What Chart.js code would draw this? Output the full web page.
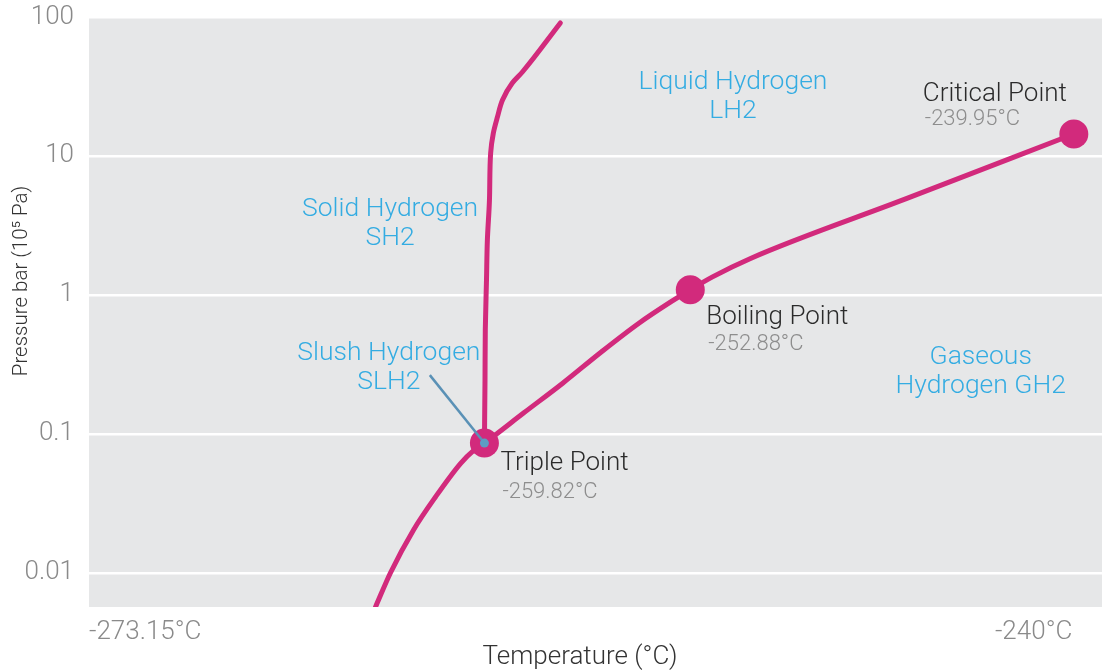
<!DOCTYPE html>
<html>
<head>
<meta charset="utf-8">
<script src="https://cdn.jsdelivr.net/npm/chart.js@4.4.1/dist/chart.umd.min.js"></script>
<style>
  html, body { margin: 0; padding: 0; background: #fff; overflow: hidden; }
  canvas { display: block; }
</style>
</head>
<body>
<canvas id="phaseChart" width="1102" height="671"></canvas>
<script>
// Hydrogen phase diagram: temperature (°C) against pressure (bar, log scale)

const FONT = "'Roboto', 'Liberation Sans', sans-serif";

const pressureTicks = [0.01, 0.1, 1, 10, 100];
const tempTicks = [-273.15, -240];

// sublimation + vaporisation curve, up to the critical point
const vaporTemps = [-263.49, -262.99, -262.21, -261.47, -260.62, -260.18, -259.82, -258.49, -257.17, -255.88, -254.60, -253.54, -252.88, -252.13, -250.83, -245.62, -239.95];
const vaporPressures = [0.0057, 0.0100, 0.0204, 0.0352, 0.0615, 0.0762, 0.086, 0.142, 0.233, 0.389, 0.629, 0.891, 1.09, 1.35, 1.84, 4.91, 14.4];

// melting curve, rising from the triple point
const meltTemps = [-259.82, -259.80, -259.79, -259.75, -259.72, -259.65, -259.61, -259.52, -259.38, -259.21, -258.88, -258.54, -257.26];
const meltPressures = [0.086, 0.244, 0.56, 1.28, 2.49, 4.82, 10.5, 14.6, 19.1, 25.3, 33.5, 40.2, 90.6];

const pointNames = ['Triple Point', 'Boiling Point', 'Critical Point'];
const pointTemps = [-259.82, -252.88, -239.95];
const pointPressures = [0.086, 1.09, 14.4];

const regionNames = [['Liquid Hydrogen', 'LH2'], ['Solid Hydrogen', 'SH2'], ['Slush Hydrogen', 'SLH2'], ['Gaseous', 'Hydrogen GH2']];
const regionTemps = [-251.44, -263.0, -263.04, -243.09];
const regionPressures = [26.5, 3.27, 0.30, 0.279];

// pointer from the slush label down to the triple point
const leaderTemps = [-261.66, -259.82];
const leaderPressures = [0.265, 0.086];

const xTitle = 'Temperature (°C)';
const yTitle = 'Pressure bar (10⁵ Pa)';

const MAGENTA = '#d22a7c';
const CYAN = '#34ace2';

function toXY(xs, ys) {
    return xs.map((x, i) => ({ x, y: ys[i] }));
}

const plotBackground = {
    id: 'plotBackground',
    beforeDraw(chart) {
        const { ctx, chartArea: a } = chart;
        ctx.save();
        ctx.fillStyle = '#e6e7e8';
        ctx.fillRect(a.left, a.top, a.right - a.left, a.bottom - a.top);
        ctx.restore();
    }
};

// name / temperature captions next to each marked point: [dx, dy, dx2, dy2]
const captionOffsets = [[16, 20, 18, 49], [16, 28, 18, 55], [-151, -39, -149, -14]];

const phaseLabels = {
    id: 'phaseLabels',
    afterDatasetsDraw(chart) {
        const { ctx, scales: { x, y } } = chart;
        ctx.save();
        ctx.textBaseline = 'middle';

        ctx.textAlign = 'center';
        ctx.fillStyle = CYAN;
        ctx.font = `300 26.5px ${FONT}`;
        regionNames.forEach((lines, i) => {
            const cx = x.getPixelForValue(regionTemps[i]);
            const cy = y.getPixelForValue(regionPressures[i]);
            ctx.fillText(lines[0], cx, cy - 14.5);
            ctx.fillText(lines[1], cx, cy + 14.5);
        });

        ctx.textAlign = 'left';
        pointNames.forEach((name, i) => {
            const px = x.getPixelForValue(pointTemps[i]);
            const py = y.getPixelForValue(pointPressures[i]);
            const o = captionOffsets[i];
            ctx.fillStyle = '#2b2b2b';
            ctx.font = `300 26px ${FONT}`;
            ctx.fillText(name, px + o[0], py + o[1]);
            ctx.fillStyle = '#8d8d8d';
            ctx.font = `300 22px ${FONT}`;
            ctx.fillText(pointTemps[i] + '°C', px + o[2], py + o[3]);
        });

        // axis titles
        ctx.fillStyle = '#333';
        ctx.textAlign = 'center';
        ctx.font = `300 26px ${FONT}`;
        ctx.fillText(xTitle, 580, 657);
        ctx.translate(22, 281);
        ctx.rotate(-Math.PI / 2);
        ctx.font = `300 20.5px ${FONT}`;
        ctx.fillText(yTitle, 0, 0);
        ctx.restore();
    }
};

const curveStyle = {
    showLine: true,
    borderColor: MAGENTA,
    borderWidth: 5,
    borderCapStyle: 'round',
    cubicInterpolationMode: 'monotone',
    pointRadius: 0,
    pointHoverRadius: 0
};

new Chart(document.getElementById('phaseChart'), {
    type: 'scatter',
    data: {
        datasets: [
            {
                label: 'leader',
                data: toXY(leaderTemps, leaderPressures),
                showLine: true,
                borderColor: '#5a91b6',
                borderWidth: 2.5,
                pointRadius: [0, 4.5],
                pointBackgroundColor: '#5d9cc3',
                pointBorderWidth: 0
            },
            {
                label: 'points',
                data: toXY(pointTemps, pointPressures),
                pointRadius: 14.5,
                pointBackgroundColor: MAGENTA,
                pointBorderWidth: 0
            },
            { label: 'vapor', data: toXY(vaporTemps, vaporPressures), ...curveStyle },
            // near-vertical, so interpolate along the pressure axis
            { label: 'melt', data: toXY(meltTemps, meltPressures), indexAxis: 'y', ...curveStyle }
        ]
    },
    options: {
        responsive: false,
        animation: false,
        layout: { autoPadding: false, padding: { top: 17, right: 0, bottom: 0, left: 0 } },
        plugins: {
            legend: { display: false },
            tooltip: { enabled: false }
        },
        scales: {
            x: {
                type: 'linear',
                min: -273.15,
                max: -239.0,
                afterBuildTicks: s => { s.ticks = tempTicks.map(v => ({ value: v })); },
                afterFit: s => {
                    s.height = 64;
                    s.paddingLeft = 0;
                    s.paddingRight = 0;
                },
                ticks: {
                    align: 'inner',
                    color: '#8a8a8a',
                    padding: 2,
                    font: { family: FONT, size: 26, weight: 300 },
                    callback: v => v + '°C'
                },
                grid: { display: false },
                border: { display: false }
            },
            y: {
                type: 'logarithmic',
                min: 0.00569,
                max: 100,
                afterBuildTicks: s => { s.ticks = pressureTicks.map(v => ({ value: v })); },
                afterFit: s => {
                    s.width = 89;
                    s.paddingTop = 0;
                    s.paddingBottom = 0;
                },
                ticks: {
                    color: '#8a8a8a',
                    padding: 15,
                    font: { family: FONT, size: 26, weight: 300 },
                    callback: v => String(v)
                },
                grid: { color: '#ffffff', lineWidth: 2.5, drawTicks: false },
                border: { display: false }
            }
        }
    },
    plugins: [plotBackground, phaseLabels]
});
</script>
</body>
</html>
